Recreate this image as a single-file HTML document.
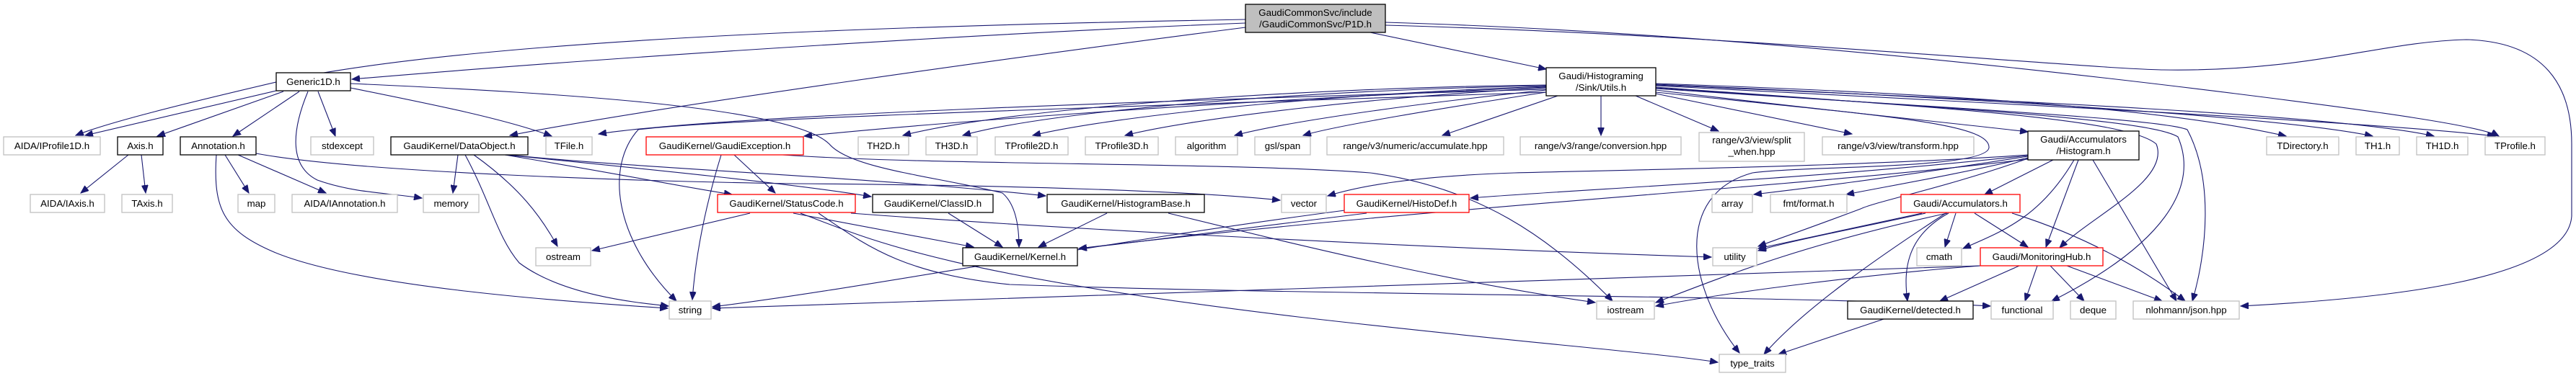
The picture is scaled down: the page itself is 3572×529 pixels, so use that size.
<!DOCTYPE html>
<html><head><meta charset="utf-8">
<style>
html,body{margin:0;padding:0;background:#fff;}
svg{display:block;}
text{font-family:"Liberation Sans",sans-serif;font-size:13.3px;fill:#000;}
.g{fill:#fff;stroke:#c0c0c0;stroke-width:1.3;}
.b{fill:#fff;stroke:#000;stroke-width:1.3;}
.r{fill:#fff;stroke:#ff0000;stroke-width:1.3;}
.root{fill:#bfbfbf;stroke:#000;stroke-width:1.3;}
path.e{fill:none;stroke:#191970;stroke-width:1.1;marker-end:url(#a);}
</style></head><body>
<svg width="3572" height="529" viewBox="0 0 3572 529" xmlns="http://www.w3.org/2000/svg">
<defs><marker id="a" markerUnits="userSpaceOnUse" markerWidth="12" markerHeight="9" refX="11" refY="4.5" orient="auto"><path d="M0,0 L11,4.5 L0,9 z" fill="#191970" stroke="#191970"/></marker></defs>
<g>
<!-- root edges -->
<path class="e" d="M1727,27 C1300,35 700,50 400,110 C250,145 150,170 105,188"/>
<path class="e" d="M1727,32 C1400,45 900,75 488,110"/>
<path class="e" d="M1727,38 C1400,80 900,150 707,188"/>
<path class="e" d="M1900,45 L2144,96"/>
<path class="e" d="M1921,31 C2400,45 2900,105 3100,130 C3300,155 3440,175 3465,189"/>
<path class="e" d="M1921,35 C2400,48 2900,96 3000,97 C3200,100 3300,58 3420,55 C3530,58 3566,120 3566,200 L3566,300 C3560,390 3300,415 3107,425"/>
<!-- Generic1D edges -->
<path class="e" d="M383,126 L118,188"/>
<path class="e" d="M393,127 L218,189"/>
<path class="e" d="M415,127 L323,189"/>
<path class="e" d="M441,127 L465,189"/>
<path class="e" d="M427,127 C405,180 400,230 440,250 C490,268 540,268 585,275"/>
<path class="e" d="M486,122 C600,145 700,165 765,189"/>
<path class="e" d="M486,116 C800,130 1100,150 1150,200 C1180,235 1300,245 1390,268 C1410,285 1413,320 1413,343"/>
<!-- Axis / Annotation -->
<path class="e" d="M178,215 L112,268"/>
<path class="e" d="M196,215 L202,268"/>
<path class="e" d="M312,215 L345,268"/>
<path class="e" d="M330,215 L452,268"/>
<path class="e" d="M300,215 C295,290 310,320 380,350 C500,400 800,420 926,428"/>
<path class="e" d="M355,213 C500,240 900,252 1100,255 C1400,257 1650,265 1775,278"/>
<!-- DataObject -->
<path class="e" d="M635,215 L628,268"/>
<path class="e" d="M645,215 C680,280 690,330 720,365 C780,410 880,420 927,425"/>
<path class="e" d="M657,215 C720,260 750,300 773,342"/>
<path class="e" d="M700,215 C850,240 950,260 1015,270"/>
<path class="e" d="M700,215 C900,235 1100,255 1208,273"/>
<path class="e" d="M705,215 C900,235 1200,245 1450,272"/>
<!-- GaudiException -->
<path class="e" d="M1000,215 C980,280 965,350 960,416"/>
<path class="e" d="M1018,215 L1075,268"/>
<path class="e" d="M1085,215 C1300,230 1700,225 1900,240 C2050,260 2150,330 2236,418"/>
<!-- StatusCode -->
<path class="e" d="M1040,296 L821,348"/>
<path class="e" d="M1100,296 L1350,343"/>
<path class="e" d="M1180,296 C1500,320 2000,345 2373,357"/>
<path class="e" d="M1110,296 C1200,330 1300,380 1800,440 C2100,475 2300,490 2382,503"/>
<path class="e" d="M1135,296 C1200,340 1250,380 1400,395 C1800,410 2500,410 2760,425"/>
<!-- ClassID / HistogramBase -->
<path class="e" d="M1315,296 L1390,343"/>
<path class="e" d="M1535,296 L1440,343"/>
<path class="e" d="M1620,296 C1800,340 2000,390 2212,420"/>
<!-- HistoDef -->
<path class="e" d="M1895,296 C1700,320 1550,340 1496,345"/>
<path class="e" d="M1865,292 C1500,340 1200,400 988,426"/>
<!-- Utils -->
<path class="e" d="M2144,124 C1600,140 1000,160 830,186"/>
<path class="e" d="M2144,121 C1700,140 1300,170 1115,189"/>
<path class="e" d="M2144,118 C1800,122 1400,150 1252,188"/>
<path class="e" d="M2144,119 C1800,125 1450,155 1335,188"/>
<path class="e" d="M2144,120 C1850,130 1550,160 1432,188"/>
<path class="e" d="M2144,122 C1900,135 1650,165 1560,188"/>
<path class="e" d="M2144,125 C1950,145 1780,170 1712,188"/>
<path class="e" d="M2144,128 C2000,150 1850,175 1807,188"/>
<path class="e" d="M2160,133 L2000,188"/>
<path class="e" d="M2220,133 L2220,188"/>
<path class="e" d="M2268,133 L2383,182"/>
<path class="e" d="M2296,130 L2568,186"/>
<path class="e" d="M2296,125 C2500,150 2700,170 2812,183"/>
<path class="e" d="M2296,116 C2700,130 3000,150 3170,189"/>
<path class="e" d="M2296,117 C2700,135 3150,160 3290,189"/>
<path class="e" d="M2296,118 C2800,140 3250,160 3375,189"/>
<path class="e" d="M2296,119 C2800,145 3300,170 3460,189"/>
<path class="e" d="M2144,128 C1500,150 1000,165 885,180 C840,230 850,330 938,418"/>
<path class="e" d="M2296,128 C2600,160 2760,170 2758,205 C2755,235 2500,230 2430,240 C2320,270 2340,400 2412,490"/>
<path class="e" d="M2296,121 C2700,150 2950,165 2990,200 C3010,250 2900,300 2856,344"/>
<path class="e" d="M2296,122 C2700,150 2980,165 3020,190 C3050,260 3000,340 2845,418"/>
<path class="e" d="M2296,123 C2700,150 3000,165 3033,180 C3070,250 3060,350 3040,418"/>
<!-- Histogram -->
<path class="e" d="M2812,215 C2600,230 2300,235 2100,240 C1950,245 1880,260 1841,272"/>
<path class="e" d="M2812,216 C2500,250 2200,262 2039,275"/>
<path class="e" d="M2812,217 C2600,250 2500,262 2432,270"/>
<path class="e" d="M2812,219 C2700,245 2620,258 2560,270"/>
<path class="e" d="M2812,220 C2700,260 2600,280 2580,290 C2500,320 2470,330 2438,342"/>
<path class="e" d="M2812,221 C2500,260 2000,285 1496,345"/>
<path class="e" d="M2847,222 L2752,270"/>
<path class="e" d="M2876,222 C2830,300 2780,320 2722,345"/>
<path class="e" d="M2882,222 L2837,343"/>
<path class="e" d="M2902,222 L3018,418"/>
<!-- Accumulators -->
<path class="e" d="M2665,296 L2438,345"/>
<path class="e" d="M2670,296 C2560,320 2480,335 2438,348"/>
<path class="e" d="M2700,296 C2500,340 2400,380 2296,420"/>
<path class="e" d="M2698,296 C2600,360 2500,430 2446,492"/>
<path class="e" d="M2702,296 C2640,330 2640,380 2645,418"/>
<path class="e" d="M2712,296 L2697,343"/>
<path class="e" d="M2738,296 L2812,343"/>
<path class="e" d="M2790,296 C2900,330 2980,380 3030,418"/>
<!-- MonitoringHub -->
<path class="e" d="M2746,369 C2300,385 1500,410 988,428"/>
<path class="e" d="M2746,369 C2600,380 2400,405 2296,425"/>
<path class="e" d="M2800,369 L2690,418"/>
<path class="e" d="M2825,369 L2808,418"/>
<path class="e" d="M2843,369 L2890,418"/>
<path class="e" d="M2866,369 L2998,418"/>
<!-- detected -->
<path class="e" d="M2612,443 L2466,492"/>
</g>
<g>
<rect class="root" x="1727" y="6" width="194" height="39"/>
<text x="1824" y="22" text-anchor="middle">GaudiCommonSvc/include</text>
<text x="1824" y="38" text-anchor="middle">/GaudiCommonSvc/P1D.h</text>
<rect class="b" x="383" y="101" width="103" height="25"/><text x="434.5" y="118" text-anchor="middle">Generic1D.h</text>
<rect class="b" x="2144" y="94" width="152" height="39"/>
<text x="2220" y="110" text-anchor="middle">Gaudi/Histograming</text>
<text x="2220" y="126" text-anchor="middle">/Sink/Utils.h</text>

<rect class="g" x="5" y="190" width="134" height="25"/><text x="72" y="207" text-anchor="middle">AIDA/IProfile1D.h</text>
<rect class="b" x="163" y="190" width="63" height="25"/><text x="194.5" y="207" text-anchor="middle">Axis.h</text>
<rect class="b" x="250" y="190" width="105" height="25"/><text x="302.5" y="207" text-anchor="middle">Annotation.h</text>
<rect class="g" x="431" y="190" width="87" height="25"/><text x="474.5" y="207" text-anchor="middle">stdexcept</text>
<rect class="b" x="542" y="190" width="190" height="25"/><text x="637" y="207" text-anchor="middle">GaudiKernel/DataObject.h</text>
<rect class="g" x="757" y="190" width="64" height="25"/><text x="789" y="207" text-anchor="middle">TFile.h</text>
<rect class="r" x="896" y="190" width="218" height="25"/><text x="1005" y="207" text-anchor="middle">GaudiKernel/GaudiException.h</text>
<rect class="g" x="1190" y="190" width="70" height="25"/><text x="1225" y="207" text-anchor="middle">TH2D.h</text>
<rect class="g" x="1284" y="190" width="71" height="25"/><text x="1319.5" y="207" text-anchor="middle">TH3D.h</text>
<rect class="g" x="1380" y="190" width="101" height="25"/><text x="1430.5" y="207" text-anchor="middle">TProfile2D.h</text>
<rect class="g" x="1505" y="190" width="101" height="25"/><text x="1555.5" y="207" text-anchor="middle">TProfile3D.h</text>
<rect class="g" x="1630" y="190" width="86" height="25"/><text x="1673" y="207" text-anchor="middle">algorithm</text>
<rect class="g" x="1740" y="190" width="77" height="25"/><text x="1778.5" y="207" text-anchor="middle">gsl/span</text>
<rect class="g" x="1840" y="190" width="245" height="25"/><text x="1962.5" y="207" text-anchor="middle">range/v3/numeric/accumulate.hpp</text>
<rect class="g" x="2108" y="190" width="223" height="25"/><text x="2219.5" y="207" text-anchor="middle">range/v3/range/conversion.hpp</text>
<rect class="g" x="2356" y="184" width="146" height="40"/>
<text x="2429" y="199" text-anchor="middle">range/v3/view/split</text>
<text x="2429" y="215" text-anchor="middle">_when.hpp</text>
<rect class="g" x="2527" y="190" width="210" height="25"/><text x="2632" y="207" text-anchor="middle">range/v3/view/transform.hpp</text>
<rect class="b" x="2812" y="182" width="154" height="40"/>
<text x="2889" y="198" text-anchor="middle">Gaudi/Accumulators</text>
<text x="2889" y="214" text-anchor="middle">/Histogram.h</text>
<rect class="g" x="3143" y="190" width="100" height="25"/><text x="3193" y="207" text-anchor="middle">TDirectory.h</text>
<rect class="g" x="3267" y="190" width="60" height="25"/><text x="3297" y="207" text-anchor="middle">TH1.h</text>
<rect class="g" x="3351" y="190" width="71" height="25"/><text x="3386.5" y="207" text-anchor="middle">TH1D.h</text>
<rect class="g" x="3446" y="190" width="83" height="25"/><text x="3487.5" y="207" text-anchor="middle">TProfile.h</text>

<rect class="g" x="42" y="270" width="103" height="25"/><text x="93.5" y="287" text-anchor="middle">AIDA/IAxis.h</text>
<rect class="g" x="169" y="270" width="70" height="25"/><text x="204" y="287" text-anchor="middle">TAxis.h</text>
<rect class="g" x="330" y="270" width="51" height="25"/><text x="355.5" y="287" text-anchor="middle">map</text>
<rect class="g" x="405" y="270" width="146" height="25"/><text x="478" y="287" text-anchor="middle">AIDA/IAnnotation.h</text>
<rect class="g" x="587" y="270" width="77" height="25"/><text x="625.5" y="287" text-anchor="middle">memory</text>
<rect class="r" x="995" y="270" width="191" height="25"/><text x="1090.5" y="287" text-anchor="middle">GaudiKernel/StatusCode.h</text>
<rect class="b" x="1210" y="270" width="167" height="25"/><text x="1293.5" y="287" text-anchor="middle">GaudiKernel/ClassID.h</text>
<rect class="b" x="1452" y="270" width="218" height="25"/><text x="1561" y="287" text-anchor="middle">GaudiKernel/HistogramBase.h</text>
<rect class="g" x="1777" y="270" width="62" height="25"/><text x="1808" y="287" text-anchor="middle">vector</text>
<rect class="r" x="1864" y="270" width="173" height="25"/><text x="1950.5" y="287" text-anchor="middle">GaudiKernel/HistoDef.h</text>
<rect class="g" x="2374" y="270" width="56" height="25"/><text x="2402" y="287" text-anchor="middle">array</text>
<rect class="g" x="2455" y="270" width="106" height="25"/><text x="2508" y="287" text-anchor="middle">fmt/format.h</text>
<rect class="r" x="2636" y="270" width="165" height="25"/><text x="2718.5" y="287" text-anchor="middle">Gaudi/Accumulators.h</text>

<rect class="g" x="743" y="344" width="76" height="25"/><text x="781" y="361" text-anchor="middle">ostream</text>
<rect class="b" x="1335" y="344" width="159" height="25"/><text x="1414.5" y="361" text-anchor="middle">GaudiKernel/Kernel.h</text>
<rect class="g" x="2375" y="344" width="61" height="25"/><text x="2405.5" y="361" text-anchor="middle">utility</text>
<rect class="g" x="2658" y="344" width="62" height="25"/><text x="2689" y="361" text-anchor="middle">cmath</text>
<rect class="r" x="2746" y="344" width="170" height="25"/><text x="2831" y="361" text-anchor="middle">Gaudi/MonitoringHub.h</text>

<rect class="g" x="928" y="418" width="58" height="25"/><text x="957" y="435" text-anchor="middle">string</text>
<rect class="g" x="2214" y="418" width="80" height="25"/><text x="2254" y="435" text-anchor="middle">iostream</text>
<rect class="b" x="2562" y="418" width="174" height="25"/><text x="2649" y="435" text-anchor="middle">GaudiKernel/detected.h</text>
<rect class="g" x="2761" y="418" width="86" height="25"/><text x="2804" y="435" text-anchor="middle">functional</text>
<rect class="g" x="2871" y="418" width="63" height="25"/><text x="2902.5" y="435" text-anchor="middle">deque</text>
<rect class="g" x="2958" y="418" width="147" height="25"/><text x="3031.5" y="435" text-anchor="middle">nlohmann/json.hpp</text>

<rect class="g" x="2384" y="492" width="92" height="25"/><text x="2430" y="509" text-anchor="middle">type_traits</text>
</g>
</svg>
</body></html>
